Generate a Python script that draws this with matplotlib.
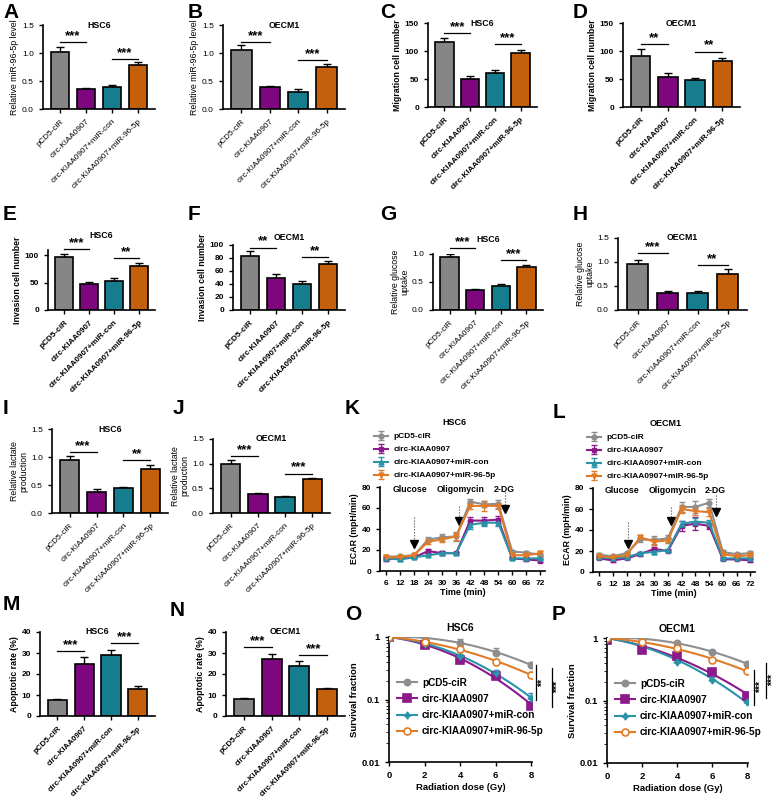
import numpy as np
import matplotlib
matplotlib.use('Agg')
import matplotlib.pyplot as plt

plt.rcParams['font.family'] = ['Liberation Sans', 'DejaVu Sans']
plt.rcParams['axes.linewidth'] = 1.2
plt.rcParams['xtick.major.width'] = 1.0
plt.rcParams['ytick.major.width'] = 1.0
plt.rcParams['xtick.major.size'] = 3
plt.rcParams['ytick.major.size'] = 3

W, H = 778, 800

groups = ['pCD5-ciR', 'circ-KIAA0907', 'circ-KIAA0907+miR-con', 'circ-KIAA0907+miR-96-5p']
bar_colors = ['#868686', '#7E067E', '#167D8E', '#C4600C']
line_colors = ['#8E8E8E', '#8B1A8B', '#2A93A8', '#E07B28']

# bar panels: values, upper errors, significance (bar i, bar j, y, text)
a_vals = [1.02, 0.35, 0.40, 0.78]
a_errs = [0.08, 0.03, 0.03, 0.06]
a_sig = [(0, 1, 1.19, '***'), (2, 3, 0.89, '***')]

b_vals = [1.06, 0.40, 0.31, 0.75]
b_errs = [0.08, 0.01, 0.05, 0.06]
b_sig = [(0, 1, 1.19, '***'), (2, 3, 0.88, '***')]

c_vals = [116, 50, 60, 97]
c_errs = [8, 6, 6, 5]
c_sig = [(0, 1, 132, '***'), (2, 3, 112, '***')]

d_vals = [91, 54, 48, 82]
d_errs = [12, 7, 3, 6]
d_sig = [(0, 1, 112, '**'), (2, 3, 99, '**')]

e_vals = [97, 47, 53, 81]
e_errs = [5, 5, 6, 5]
e_sig = [(0, 1, 112, '***'), (2, 3, 95, '**')]

f_vals = [83, 49, 40, 70]
f_errs = [8, 6, 5, 6]
f_sig = [(0, 1, 96, '**'), (2, 3, 82, '**')]

g_vals = [0.95, 0.36, 0.43, 0.77]
g_errs = [0.05, 0.02, 0.04, 0.03]
g_sig = [(0, 1, 1.10, '***'), (2, 3, 0.89, '***')]

h_vals = [0.95, 0.36, 0.35, 0.75]
h_errs = [0.10, 0.03, 0.04, 0.10]
h_sig = [(0, 1, 1.18, '***'), (2, 3, 0.94, '**')]

i_vals = [0.95, 0.37, 0.44, 0.78]
i_errs = [0.06, 0.05, 0.03, 0.07]
i_sig = [(0, 1, 1.09, '***'), (2, 3, 0.95, '**')]

j_vals = [1.00, 0.39, 0.33, 0.68]
j_errs = [0.07, 0.01, 0.02, 0.03]
j_sig = [(0, 1, 1.16, '***'), (2, 3, 0.80, '***')]

m_vals = [7.5, 25, 29, 13]
m_errs = [0.5, 3, 2.5, 1.5]
m_sig = [(0, 1, 31, '***'), (2, 3, 34.6, '***')]

n_vals = [8, 27, 24, 13]
n_errs = [0.8, 2.5, 2, 0.5]
n_sig = [(0, 1, 33, '***'), (2, 3, 29, '***')]

# ECAR time courses
times = [6, 12, 18, 24, 30, 36, 42, 48, 54, 60, 66, 72]
k_ciR = [13.5, 14, 15, 30, 32, 33, 66, 63.5, 64, 18.5, 17.5, 15.5]
k_circ = [11, 12, 13, 19, 17, 17, 48, 48, 49, 12, 11, 10]
k_con = [12, 11, 13, 15, 17, 17, 44, 46, 46, 12, 12, 12]
k_96 = [13, 13, 15, 28, 30, 33, 62, 62, 62, 15, 15, 17]
k_ciR_err = [1.5, 1.5, 1, 2, 3, 4, 3, 3, 4, 1.5, 1.5, 2]
k_circ_err = [1, 1, 1, 2, 2, 1, 3, 3, 3, 1, 1, 1]
k_con_err = [1, 1, 1, 1, 2, 1, 4, 3, 3, 1, 1, 1]
k_96_err = [1, 1, 1, 2, 2, 3, 3, 5, 3, 1, 1, 2]

l_ciR = [16.5, 15, 18, 31, 30.5, 32, 62, 62, 66, 19, 17, 18]
l_circ = [13, 11, 13, 17, 22, 20, 44, 46, 44, 12, 12, 11]
l_con = [14, 13, 14, 18, 19, 21, 46, 48, 47, 13, 13, 13]
l_96 = [15, 14, 16, 33, 29, 30, 60, 58, 57, 17, 15, 16]
l_ciR_err = [1.5, 1.5, 1.5, 2, 4, 3, 5, 6, 4, 1.5, 1.5, 2]
l_circ_err = [1, 1, 1, 2, 2, 1, 5, 6, 3, 1, 1, 1]
l_con_err = [1, 1, 1, 1, 2, 1, 3, 3, 3, 1, 1, 1]
l_96_err = [1, 1, 1, 2, 3, 2, 4, 4, 4, 1, 1, 1]

# treatment arrows: x, dotted start y, tip y
k_arrows = [(18, 51, 23), (37, 62, 45), (57, 75, 56)]
l_arrows = [(18.5, 48, 24), (37.5, 62, 46), (57, 73, 54)]
treatments = [('Glucose', 16), ('Oligomycin', 38), ('2-DG', 56.5)]

# survival
dose = [0, 2, 4, 6, 8]
o_ciR = [1.0, 0.98, 0.81, 0.56, 0.36]
o_circ = [1.0, 0.74, 0.43, 0.24, 0.08]
o_con = [0.93, 0.76, 0.50, 0.27, 0.105]
o_96 = [1.0, 0.84, 0.64, 0.40, 0.25]
o_err = [[0, 0.02, 0.12, 0.10, 0.04], [0, 0.03, 0.03, 0.03, 0.005],
         [0, 0.02, 0.03, 0.03, 0.02], [0, 0.02, 0.03, 0.04, 0.03]]

p_ciR = [1.0, 0.97, 0.84, 0.59, 0.39]
p_circ = [0.93, 0.64, 0.51, 0.29, 0.12]
p_con = [0.98, 0.84, 0.42, 0.21, 0.095]
p_96 = [1.0, 0.87, 0.69, 0.44, 0.30]
p_err = [[0, 0.02, 0.03, 0.06, 0.02], [0, 0.06, 0.03, 0.02, 0.015],
         [0, 0.02, 0.03, 0.03, 0.005], [0, 0.02, 0.03, 0.03, 0.02]]

o_sig = [(8.28, 0.356, 0.098, '**'), (9.17, 0.32, 0.076, '***')]
p_sig = [(8.4, 0.31, 0.085, '***'), (9.1, 0.40, 0.11, '***')]


fig = plt.figure(figsize=(W / 100, H / 100), dpi=100)


def px_axes(left, top, right, bottom):
    return fig.add_axes([left / W, 1 - bottom / H, (right - left) / W, (bottom - top) / H])


def letter(x, y, s):
    fig.text(x / W, 1 - y / H, s, fontsize=15, fontweight='bold', va='center', ha='left')


def bar_panel(ax, vals, errs, sigs, title, ylabel, ylim, yticks, fmt, bold,
              title_y=1.0, xsize=5.9):
    wt = 'bold' if bold else 'normal'
    x = np.arange(len(vals))
    ax.errorbar(x, vals, yerr=[np.zeros(len(errs)), errs], fmt='none', ecolor='black',
                elinewidth=1.0, capsize=3, capthick=1.0, zorder=1)
    ax.bar(x, vals, width=0.72, color=bar_colors, edgecolor='black', linewidth=1.2, zorder=2)
    ax.set_xlim(-0.65, 3.65)
    ax.set_ylim(*ylim)
    ax.set_yticks(yticks)
    ax.set_yticklabels([fmt.format(v) for v in yticks], fontsize=6, fontweight=wt)
    ax.set_xticks(x)
    ax.set_xticklabels(groups, rotation=45, ha='right', rotation_mode='anchor',
                       fontsize=xsize, fontweight=wt)
    ax.spines['top'].set_visible(False)
    ax.spines['right'].set_visible(False)
    ax.set_ylabel(ylabel, fontsize=6.3, fontweight=wt, labelpad=2, linespacing=1.0)
    ax.text(0.5, title_y, title, transform=ax.transAxes, ha='center', va='center',
            fontsize=6.3, fontweight='bold')
    for i, j, y, s in sigs:
        ax.plot([i, j], [y, y], color='black', lw=0.9, clip_on=False)
        ax.text((i + j) / 2, y, s, ha='center', va='bottom', fontsize=9.5,
                fontweight='bold', clip_on=False)


# row 1
ax = px_axes(43, 25, 155, 109)
bar_panel(ax, a_vals, a_errs, a_sig, 'HSC6', 'Relative miR-96-5p level', (0, 1.5),
          [0, 0.5, 1.0, 1.5], '{:.1f}', False)
ax = px_axes(223, 25, 345, 109)
bar_panel(ax, b_vals, b_errs, b_sig, 'OECM1', 'Relative miR-96-5p level', (0, 1.5),
          [0, 0.5, 1.0, 1.5], '{:.1f}', False)
ax = px_axes(428, 23, 537, 107)
bar_panel(ax, c_vals, c_errs, c_sig, 'HSC6', 'Migration cell number', (0, 150),
          [0, 50, 100, 150], '{:d}', True)
ax = px_axes(623, 23, 740, 107)
bar_panel(ax, d_vals, d_errs, d_sig, 'OECM1', 'Migration cell number', (0, 150),
          [0, 50, 100, 150], '{:d}', True)

# row 2
ax = px_axes(48, 250, 155, 310)
bar_panel(ax, e_vals, e_errs, e_sig, 'HSC6', 'Invasion cell number', (0, 110),
          [0, 50, 100], '{:d}', True, title_y=1.25)
ax = px_axes(233, 245, 345, 310)
bar_panel(ax, f_vals, f_errs, f_sig, 'OECM1', 'Invasion cell number', (0, 100),
          [0, 20, 40, 60, 80, 100], '{:d}', True, title_y=1.12)
ax = px_axes(433, 254, 543, 310)
bar_panel(ax, g_vals, g_errs, g_sig, 'HSC6', 'Relative glucose\nuptake', (0, 1.0),
          [0, 0.5, 1.0], '{:.1f}', False, title_y=1.25)
ax = px_axes(618, 238, 747, 310)
bar_panel(ax, h_vals, h_errs, h_sig, 'OECM1', 'Relative glucose\nuptake', (0, 1.5),
          [0, 0.5, 1.0, 1.5], '{:.1f}', False, title_y=1.0)

# row 3 bars
ax = px_axes(52, 429, 168, 513)
bar_panel(ax, i_vals, i_errs, i_sig, 'HSC6', 'Relative lactate\nproduction', (0, 1.5),
          [0, 0.5, 1.0, 1.5], '{:.1f}', False)
ax = px_axes(213, 439, 330, 513)
bar_panel(ax, j_vals, j_errs, j_sig, 'OECM1', 'Relative lactate\nproduction', (0, 1.5),
          [0, 0.5, 1.0, 1.5], '{:.1f}', False)

# row 4 bars
ax = px_axes(40, 632, 155, 716)
bar_panel(ax, m_vals, m_errs, m_sig, 'HSC6', 'Apoptotic rate (%)', (0, 40),
          [0, 10, 20, 30, 40], '{:d}', True, xsize=5.7)
ax = px_axes(226, 632, 345, 716)
bar_panel(ax, n_vals, n_errs, n_sig, 'OECM1', 'Apoptotic rate (%)', (0, 40),
          [0, 10, 20, 30, 40], '{:d}', True, xsize=5.7)


def ecar_panel(ax, series, errs, arrows, title):
    markers = ['o', 's', '^', 'v']
    for ys, es, c, m, lab in zip(series, errs, line_colors, markers, groups):
        ax.errorbar(times, ys, yerr=es, color=c, marker=m, markersize=3.5, lw=1.5,
                    capsize=2, elinewidth=0.9, label=lab)
    ax.set_xlim(3.4, 74)
    ax.set_ylim(0, 80)
    ax.set_xticks(times)
    ax.set_yticks([0, 20, 40, 60, 80])
    ax.tick_params(labelsize=6)
    for t in ax.get_xticklabels() + ax.get_yticklabels():
        t.set_fontweight('bold')
    ax.spines['top'].set_visible(False)
    ax.spines['right'].set_visible(False)
    ax.set_xlabel('Time (min)', fontsize=6.5, fontweight='bold', labelpad=1)
    ax.set_ylabel('ECAR (mpH/min)', fontsize=6.3, fontweight='bold', labelpad=2)
    for name, xt in treatments:
        ax.text(xt, 78, name, ha='center', va='center', fontsize=6.3, fontweight='bold')
    for xa, y0, y1 in arrows:
        ax.plot([xa, xa], [y0, y1 + 3], color='#444444', lw=0.8, ls=':')
        ax.plot([xa], [y1 + 3], marker='v', color='black', markersize=6, ls='none')
    leg = ax.legend(loc='lower left', bbox_to_anchor=(-0.06, 1.04), frameon=False,
                    fontsize=6.0, handlelength=1.6, handletextpad=0.7,
                    labelspacing=0.62, borderpad=0)
    for t in leg.get_texts():
        t.set_fontweight('bold')
    ax.text(0.45, 1.77, title, transform=ax.transAxes, ha='center', va='center',
            fontsize=6.5, fontweight='bold')


ax = px_axes(380, 487, 545, 571)
ecar_panel(ax, [k_ciR, k_circ, k_con, k_96], [k_ciR_err, k_circ_err, k_con_err, k_96_err],
           k_arrows, 'HSC6')
ax = px_axes(593, 488, 755, 572)
ecar_panel(ax, [l_ciR, l_circ, l_con, l_96], [l_ciR_err, l_circ_err, l_con_err, l_96_err],
           l_arrows, 'OECM1')


def surv_panel(ax, series, errs, sigs, title):
    styles = [dict(marker='o', mfc=line_colors[0], ms=4.5),
              dict(marker='s', mfc=line_colors[1], ms=5.5),
              dict(marker=(4, 1, 0), mfc=line_colors[2], ms=5),
              dict(marker='o', mfc='white', ms=5)]
    d = np.array(dose, dtype=float)
    dd = np.linspace(0, 8, 100)
    for ys, es, c, st, lab in zip(series, errs, line_colors, styles, groups):
        # linear-quadratic fit through S(0)=1
        A = np.column_stack([-d, -d ** 2])
        coef = np.linalg.lstsq(A, np.log(ys), rcond=None)[0]
        fit = np.exp(-coef[0] * dd - coef[1] * dd ** 2)
        ax.plot(dd, fit, color=c, lw=1.5, zorder=2)
        ax.errorbar(d, ys, yerr=[np.zeros(len(es)), es], fmt='none', ecolor=c,
                    elinewidth=1.0, capsize=2.5, zorder=3)
        ax.plot(d, ys, ls='none', color=c, mec=c, mew=1.2, zorder=4, **st)
        ax.plot([], [], color=c, lw=1.5, mec=c, mew=1.2, label=lab, **st)
    ax.set_yscale('log')
    ax.set_ylim(0.01, 1.0)
    ax.set_xlim(0, 8.05)
    ax.set_xticks([0, 2, 4, 6, 8])
    ax.set_yticks([0.01, 0.1, 1])
    ax.set_yticklabels(['0.01', '0.1', '1'])
    ax.tick_params(labelsize=6.8)
    for t in ax.get_xticklabels() + ax.get_yticklabels():
        t.set_fontweight('bold')
    ax.spines['top'].set_visible(False)
    ax.spines['right'].set_visible(False)
    ax.set_xlabel('Radiation dose (Gy)', fontsize=6.8, fontweight='bold', labelpad=2)
    ax.set_ylabel('Survival fraction', fontsize=6.8, fontweight='bold', labelpad=2)
    ax.text(0.5, 1.07, title, transform=ax.transAxes, ha='center', va='center',
            fontsize=7.5, fontweight='bold')
    for xs, ya, yb, s in sigs:
        ax.plot([xs, xs], [ya, yb], color='black', lw=0.9, clip_on=False)
        ax.text(xs + 0.08, np.sqrt(ya * yb), s, rotation=90, ha='left', va='center',
                fontsize=7.5, fontweight='bold', clip_on=False)
    leg = ax.legend(loc='center left', bbox_to_anchor=(0.02, 0.44), frameon=False,
                    fontsize=7.2, handlelength=2.0, handletextpad=0.5,
                    labelspacing=0.62, borderpad=0)
    for t in leg.get_texts():
        t.set_fontweight('bold')


ax = px_axes(389, 637, 532, 762)
surv_panel(ax, [o_ciR, o_circ, o_con, o_96], o_err, o_sig, 'HSC6')
ax = px_axes(607, 638, 748, 763)
surv_panel(ax, [p_ciR, p_circ, p_con, p_96], p_err, p_sig, 'OECM1')

for s, x, y in [('A', 3, 12), ('B', 188, 12), ('C', 380, 12), ('D', 573, 12),
                ('E', 3, 215), ('F', 188, 215), ('G', 380, 215), ('H', 573, 215),
                ('I', 3, 408), ('J', 173, 408), ('K', 345, 408), ('L', 553, 412),
                ('M', 3, 605), ('N', 170, 610), ('O', 345, 615), ('P', 552, 615)]:
    letter(x, y, s)

fig.savefig('out.png', dpi=100)
